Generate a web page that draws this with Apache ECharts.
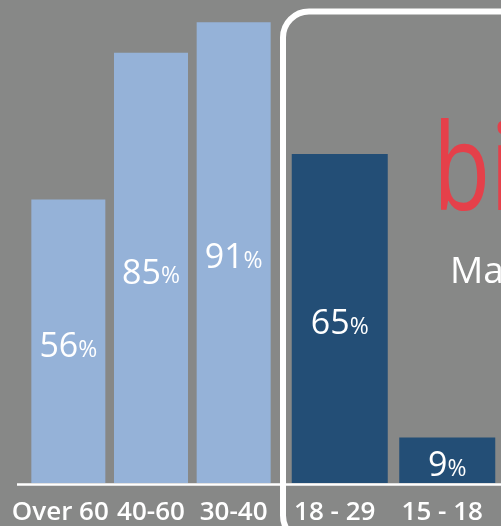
<!DOCTYPE html>
<html><head><meta charset="utf-8">
<script src="https://cdn.jsdelivr.net/npm/echarts@6/dist/echarts.min.js"></script>
<style>html,body{margin:0;padding:0;background:#878887;}#c{width:501px;height:526px;}</style>
</head><body><div id="c"></div>
<script>
const leftCategories = ['Over 60', '40-60', '30-40'];
const leftValues = [56, 85, 91];
const rightCategories = ['18 - 29', '15 - 18'];
const rightValues = [65, 9];

const chart = echarts.init(document.getElementById('c'));
const FONT = '"Open Sans", "Noto Sans", sans-serif';
const pctLabel = {
  show: true, position: 'inside', offset: [0, 6],
  formatter: p => '{n|' + p.value + '}{p|%}',
  rich: {
    n: { color: '#fff', fontSize: 34, fontFamily: FONT, fontWeight: 400 },
    p: { color: '#fff', fontSize: 23, fontFamily: FONT, fontWeight: 400, padding: [6, 0, 0, 0] }
  }
};
const axisLbl = {
  color: '#fff', fontSize: 26, fontWeight: 600, fontFamily: FONT, margin: 17, interval: 0
};
chart.setOption({
  backgroundColor: '#878887',
  animation: false,
  grid: [
    { left: 27, width: 248, top: 0, height: 485 },
    { left: 286, width: 220, top: 0, height: 485 }
  ],
  xAxis: [
    { type: 'category', gridIndex: 0,
      data: leftCategories.map((c, i) => i === 0 ? { value: c, textStyle: { padding: [0, 16, 0, 0] } } : c),
      axisLine: { show: false }, axisTick: { show: false }, axisLabel: axisLbl },
    { type: 'category', gridIndex: 1,
      data: rightCategories.map(c => ({ value: c, textStyle: { padding: [0, 10, 0, 0] } })),
      axisLine: { show: false }, axisTick: { show: false }, axisLabel: axisLbl }
  ],
  yAxis: [
    { type: 'value', gridIndex: 0, min: 0, max: 95.4, show: false },
    { type: 'value', gridIndex: 1, min: 0, max: 95.4, show: false }
  ],
  series: [
    { type: 'bar', xAxisIndex: 0, yAxisIndex: 0, data: leftValues, barWidth: 74,
      itemStyle: { color: '#95b2d8' }, label: pctLabel },
    { type: 'bar', xAxisIndex: 1, yAxisIndex: 1, data: rightValues, barWidth: 96,
      itemStyle: { color: '#234e76' }, label: pctLabel }
  ],
  graphic: [
    { type: 'line', shape: { x1: 17, y1: 484.5, x2: 280, y2: 484.5 }, style: { stroke: '#fff', lineWidth: 2.5 } },
    { type: 'line', shape: { x1: 286, y1: 484.5, x2: 501, y2: 484.5 }, style: { stroke: '#fff', lineWidth: 2.5 } },
    { type: 'rect', shape: { x: 283, y: 11.5, width: 280, height: 530, r: 26 },
      style: { fill: 'none', stroke: '#fff', lineWidth: 6 } },
    { type: 'text', x: 433, y: 116, scaleX: 0.78,
      style: { text: 'bi', fill: '#e5404a', fontSize: 120, fontWeight: 400, fontFamily: FONT } },
    { type: 'text', x: 450, y: 254,
      style: { text: 'Ma', fill: '#fff', fontSize: 37, fontWeight: 400, fontFamily: FONT } }
  ]
});
</script></body></html>
